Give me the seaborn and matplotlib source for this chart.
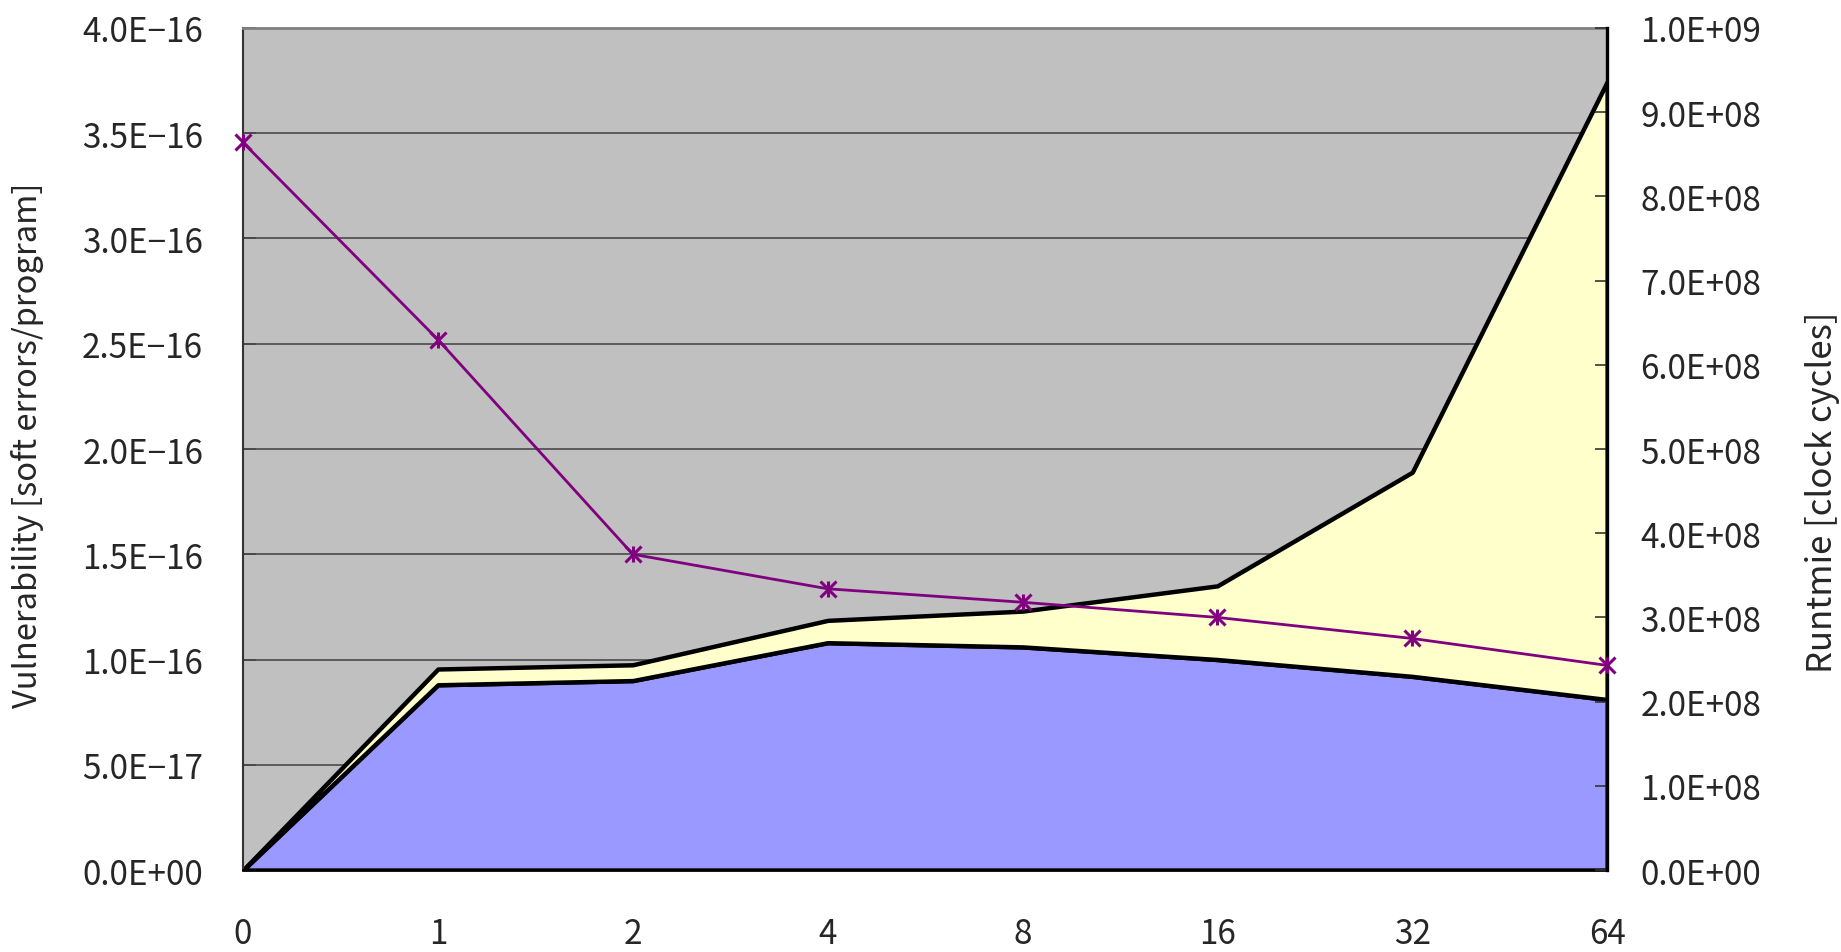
import matplotlib
matplotlib.use("Agg")
import matplotlib.pyplot as plt
import seaborn as sns
import numpy as np
import pandas as pd
from matplotlib.ticker import FixedLocator, FuncFormatter

# Categories along the x axis (number of redundant copies)
categories = ["0", "1", "2", "4", "8", "16", "32", "64"]

# Vulnerability components [soft errors/program]
vuln_core = [0.0, 0.88e-16, 0.90e-16, 1.08e-16, 1.06e-16, 1.00e-16, 0.92e-16, 0.81e-16]
vuln_extra = [0.0, 0.075e-16, 0.075e-16, 0.106e-16, 0.17e-16, 0.35e-16, 0.97e-16, 2.935e-16]

# Runtime [clock cycles]
runtime = [8.64e8, 6.30e8, 3.75e8, 3.34e8, 3.18e8, 3.00e8, 2.75e8, 2.43e8]

left_ticks = [0.0, 0.5e-16, 1.0e-16, 1.5e-16, 2.0e-16, 2.5e-16, 3.0e-16, 3.5e-16, 4.0e-16]
right_ticks = [i * 1e8 for i in range(11)]

sns.set_style("white")
font_list = ["Noto Sans CJK JP", "DejaVu Sans"]
plt.rcParams["font.family"] = font_list

DPI = 100
TICK_FS = 24
fig = plt.figure(figsize=(18.41, 9.53), dpi=DPI)
fig.subplots_adjust(left=0.132, right=0.873, bottom=0.086, top=0.9696)
ax = fig.add_subplot(111)

pos = np.arange(len(categories))
ax.set_facecolor("#C0C0C0")

# horizontal grid behind the stacked areas
for t in left_ticks[1:-1]:
    ax.axhline(t, color="#4a4a4a", lw=1.2, zorder=1)

ax.stackplot(pos, vuln_core, vuln_extra,
             colors=["#9999FF", "#FFFFCC"],
             edgecolor="black", linewidth=3.2, zorder=2)

ax.set_xlim(0, len(categories) - 1)
ax.set_ylim(0, 4.0e-16)
ax.set_xticks(pos)
ax.set_xticklabels(categories)
ax.yaxis.set_major_locator(FixedLocator(left_ticks))


def sci_label(v, _pos=None):
    s = f"{v:.1E}"
    return s.replace("-", "\u2212")


ax.yaxis.set_major_formatter(FuncFormatter(sci_label))
ax.tick_params(axis="y", direction="in", length=9, width=1.2, color="#333333",
               labelsize=TICK_FS, pad=28.8, left=True)
ax.tick_params(axis="x", direction="in", length=9, width=1.2, color="#333333",
               labelsize=TICK_FS, pad=33, bottom=True)

for name, sp in ax.spines.items():
    sp.set_visible(True)
ax.spines["top"].set_color("#808080")
ax.spines["top"].set_linewidth(2.0)
ax.spines["left"].set_color("#333333")
ax.spines["left"].set_linewidth(1.5)
ax.spines["bottom"].set_color("black")
ax.spines["bottom"].set_linewidth(2.0)

ax.set_ylabel("Vulnerability [soft errors/program]", fontsize=23.5, va="center")
ax.yaxis.set_label_coords(-0.158, 0.505)

# Runtime on the secondary axis
ax2 = ax.twinx()
df_rt = pd.DataFrame({"pos": pos, "runtime": runtime})
sns.lineplot(data=df_rt, x="pos", y="runtime", ax=ax2, color="#800080",
             linewidth=2.0, marker="x", markersize=11, markeredgewidth=2.2,
             markeredgecolor="#800080", clip_on=False, zorder=5)
sns.scatterplot(data=df_rt, x="pos", y="runtime", ax=ax2, marker="|", s=120,
                color="#800080", linewidth=2.2, clip_on=False, zorder=6)
ax2.set_xlim(0, len(categories) - 1)
ax2.set_ylim(0, 1.0e9)
ax2.yaxis.set_major_locator(FixedLocator(right_ticks))
ax2.yaxis.set_major_formatter(FuncFormatter(sci_label))
ax2.tick_params(axis="y", direction="in", length=9, width=1.2, color="#333333",
                labelsize=TICK_FS, pad=23.8, right=True)
ax2.set_xlabel("")
ax2.set_ylabel("Runtmie [clock cycles]", fontsize=25, va="center", rotation=90)
ax2.yaxis.set_label_coords(1.158, 0.45)
for name, sp in ax2.spines.items():
    sp.set_visible(False)
ax2.spines["right"].set_visible(True)
ax2.spines["right"].set_color("black")
ax2.spines["right"].set_linewidth(2.4)
ax2.patch.set_visible(False)

fig.savefig("out.png", dpi=DPI)
